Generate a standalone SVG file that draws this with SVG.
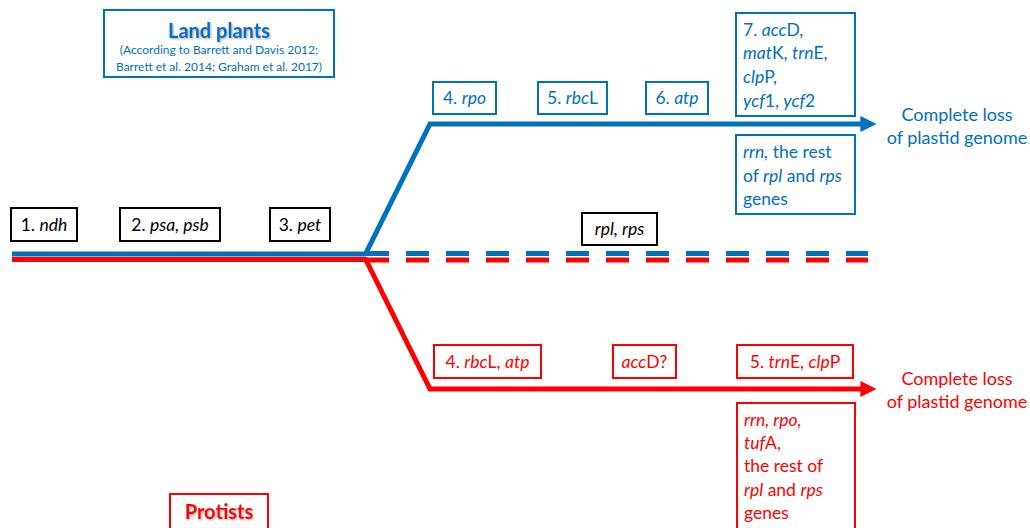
<svg xmlns="http://www.w3.org/2000/svg" width="1030" height="528" viewBox="0 0 1030 528">
<defs>
<style>
text{font-family:Lato,"Liberation Sans",sans-serif;font-size:17.5px}
.b{fill:#0070C0}.r{fill:#FF0000}.k{fill:#000}
.bx{fill:#fff;stroke-width:2}
.sb{stroke:#0070C0}.sr{stroke:#FF0000}.sk{stroke:#000}
.i{font-style:italic}
.c{text-anchor:middle}
.title{font-weight:bold;font-size:20px}
.small{font-size:12px}
.big{font-size:18px}
</style>
<marker id="ab" viewBox="0 0 10 10" refX="1" refY="5" markerWidth="3.2" markerHeight="3.2" orient="auto" markerUnits="strokeWidth"><path d="M0,0L10,5L0,10z" fill="#0070C0"/></marker>
<marker id="ar" viewBox="0 0 10 10" refX="1" refY="5" markerWidth="3.2" markerHeight="3.2" orient="auto" markerUnits="strokeWidth"><path d="M0,0L10,5L0,10z" fill="#FF0000"/></marker>
<filter id="sh" x="-10%" y="-10%" width="130%" height="140%"><feDropShadow dx="1" dy="1" stdDeviation="0.8" flood-color="#777" flood-opacity="0.7"/></filter>
</defs>
<rect width="1030" height="528" fill="#fff"/>
<g id="connectors" fill="none">
<line x1="12" y1="254" x2="366" y2="254" stroke="#0070C0" stroke-width="5"/>
<line x1="12" y1="259.5" x2="366" y2="259.5" stroke="#FF0000" stroke-width="5"/>
<polyline points="365,255 430,124 862,124" stroke="#0070C0" stroke-width="5" stroke-linejoin="miter" marker-end="url(#ab)"/>
<polyline points="365,258 430,389 862,389" stroke="#FF0000" stroke-width="5" stroke-linejoin="miter" marker-end="url(#ar)"/>
<line x1="366" y1="253.5" x2="868" y2="253.5" stroke="#0070C0" stroke-width="5" stroke-dasharray="23 17"/>
<line x1="366" y1="260" x2="868" y2="260" stroke="#FF0000" stroke-width="5" stroke-dasharray="23 17"/>
</g>
<g id="land-plants">
<rect class="bx sb" x="104" y="10" width="230" height="67"/>
<text class="b c title" x="219" y="38" filter="url(#sh)">Land plants</text>
<text class="b c small" x="219" y="54">(According to Barrett and Davis 2012;</text>
<text class="b c small" x="219" y="71">Barrett et al. 2014; Graham et al. 2017)</text>
</g>
<g id="n1"><rect class="bx sk" x="11" y="208" width="66" height="33"/><text class="k c" x="44" y="231">1. <tspan class="i">ndh</tspan></text></g>
<g id="n2"><rect class="bx sk" x="120" y="208" width="100" height="33"/><text class="k c" x="170" y="231">2. <tspan class="i">psa, psb</tspan></text></g>
<g id="n3"><rect class="bx sk" x="270" y="208" width="60" height="33"/><text class="k c" x="300" y="231">3. <tspan class="i">pet</tspan></text></g>
<g id="rplrps"><rect class="bx sk" x="582" y="213" width="75" height="32"/><text class="k c i" x="619.5" y="235">rpl, rps</text></g>
<g id="b4"><rect class="bx sb" x="433" y="82" width="63" height="32"/><text class="b c" x="464.5" y="104">4. <tspan class="i">rpo</tspan></text></g>
<g id="b5"><rect class="bx sb" x="538" y="82" width="69" height="32"/><text class="b c" x="572.5" y="104">5. <tspan class="i">rbc</tspan>L</text></g>
<g id="b6"><rect class="bx sb" x="646" y="82" width="62" height="32"/><text class="b c" x="677" y="104">6. <tspan class="i">atp</tspan></text></g>
<g id="b7"><rect class="bx sb" x="736" y="13" width="119" height="103"/>
<text class="b" x="743" y="36">7. <tspan class="i">acc</tspan>D,</text>
<text class="b" x="743" y="59"><tspan class="i">mat</tspan>K, <tspan class="i">trn</tspan>E,</text>
<text class="b" x="743" y="83"><tspan class="i">clp</tspan>P,</text>
<text class="b" x="743" y="107"><tspan class="i">ycf</tspan>1, <tspan class="i">ycf</tspan>2</text>
</g>
<g id="b8"><rect class="bx sb" x="736" y="135" width="119" height="79"/>
<text class="b" x="743" y="158"><tspan class="i">rrn,</tspan> the rest</text>
<text class="b" x="743" y="182">of <tspan class="i">rpl</tspan> and <tspan class="i">rps</tspan></text>
<text class="b" x="743" y="205">genes</text>
</g>
<g id="bloss"><text class="b c big" x="957" y="121">Complete loss</text><text class="b c big" x="957" y="144">of plastid genome</text></g>
<g id="r4"><rect class="bx sr" x="434" y="345" width="107" height="33"/><text class="r c" x="487.5" y="368">4. <tspan class="i">rbc</tspan>L, <tspan class="i">atp</tspan></text></g>
<g id="racc"><rect class="bx sr" x="613" y="345" width="63" height="33"/><text class="r c" x="644.5" y="368"><tspan class="i">acc</tspan>D?</text></g>
<g id="r5"><rect class="bx sr" x="737" y="345" width="116" height="33"/><text class="r c" x="795" y="368">5. <tspan class="i">trn</tspan>E, <tspan class="i">clp</tspan>P</text></g>
<g id="r6"><rect class="bx sr" x="737" y="403" width="118" height="130"/>
<text class="r" x="744" y="426"><tspan class="i">rrn, rpo,</tspan></text>
<text class="r" x="744" y="449"><tspan class="i">tuf</tspan>A,</text>
<text class="r" x="744" y="472">the rest of</text>
<text class="r" x="744" y="496"><tspan class="i">rpl</tspan> and <tspan class="i">rps</tspan></text>
<text class="r" x="744" y="519">genes</text>
</g>
<g id="rloss"><text class="r c big" x="957" y="385">Complete loss</text><text class="r c big" x="957" y="408">of plastid genome</text></g>
<g id="protists"><rect class="bx sr" x="170" y="494" width="98" height="40"/><text class="r c title" x="219" y="519" filter="url(#sh)">Protists</text></g>
</svg>
